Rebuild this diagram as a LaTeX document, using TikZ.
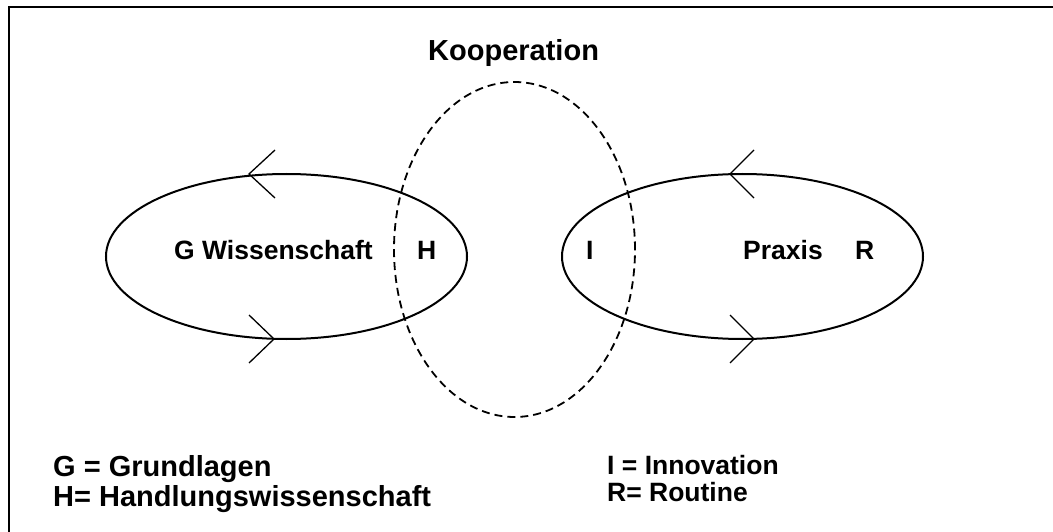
\documentclass[tikz,border=0pt]{standalone}
\usepackage{fontspec}
\setmainfont{Liberation Sans}
\usetikzlibrary{shapes.geometric}
\begin{document}
\begin{tikzpicture}[x=1pt,y=-1pt,
  loop/.style={draw,ellipse,line width=2pt,minimum width=361pt,minimum height=165pt,inner sep=0pt},
  coop/.style={draw,ellipse,line width=1.8pt,dash pattern=on 8pt off 5pt,minimum width=241pt,minimum height=335pt,inner sep=0pt},
  lbl/.style={font=\fontsize{26.5}{31}\selectfont\bfseries,inner sep=0pt,anchor=base west},
  biglbl/.style={lbl,font=\fontsize{29}{34}\selectfont\bfseries},
  chev/.style={line width=1.3pt},
  frame/.style={line width=2pt}]
\useasboundingbox (0,0) rectangle (1053,532);
\draw[frame] (9,532) -- (9,7) -- (1053,7);
% ellipses
\node[loop] (wiss) at (286.5,256.5) {};
\node[loop] (prax) at (742.5,256.5) {};
\node[coop] (koop) at (514.5,249.5) {};
% direction marks
\coordinate (wt) at (249,174);
\coordinate (wb) at (274,339);
\coordinate (pt) at (730,174);
\coordinate (pb) at (754,339);
\draw[chev] ([shift={(26,-24)}]wt) -- (wt) -- ([shift={(26,24)}]wt);
\draw[chev] ([shift={(-25,-24)}]wb) -- (wb) -- ([shift={(-25,24)}]wb);
\draw[chev] ([shift={(24,-24)}]pt) -- (pt) -- ([shift={(24,24)}]pt);
\draw[chev] ([shift={(-24,-24)}]pb) -- (pb) -- ([shift={(-24,24)}]pb);
% labels
\node[biglbl] (ktitle) at (428,61) {Kooperation};
\node[lbl] (g) at (174,259) {G Wissenschaft};
\node[lbl] (h) at (417,259) {H};
\node[lbl] (i) at (586,259) {I};
\node[lbl] (p) at (743,259) {Praxis};
\node[lbl] (r) at (855,259) {R};
\node[biglbl] (lg) at (53,476) {G = Grundlagen};
\node[biglbl] (lh) at (53,506) {H= Handlungswissenschaft};
\node[lbl] (li) at (607,474) {I = Innovation};
\node[lbl] (lr) at (607,501) {R= Routine};
\end{tikzpicture}
\end{document}
